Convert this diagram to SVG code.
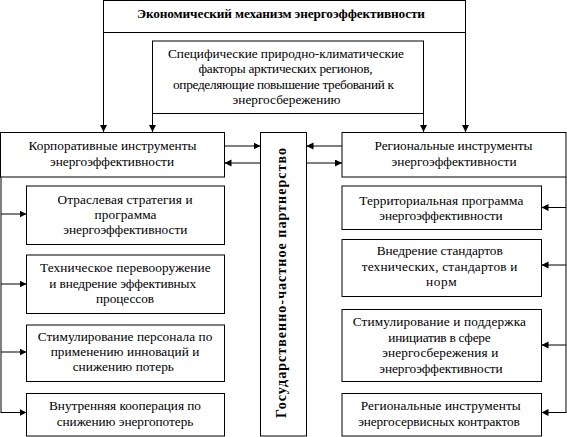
<svg xmlns="http://www.w3.org/2000/svg" width="567" height="437" viewBox="0 0 567 437">
<style>
rect{fill:#fff;stroke:#000;stroke-width:1}
text{font-family:'Liberation Serif','Times New Roman','DejaVu Serif',serif;font-size:13.3px;fill:#000;text-anchor:middle}
.b{font-weight:bold}
.c line{stroke:#000;stroke-width:1;fill:none}
</style>
<defs>
<marker id="ah" markerUnits="userSpaceOnUse" markerWidth="8" markerHeight="8" refX="7" refY="3.5" orient="auto">
<path d="M0,0 L7,3.5 L0,7 z" fill="#000"/>
</marker>
</defs>
<rect width="567" height="437" style="stroke:none"/>
<g class="c" id="connectors">
<line x1="103.5" y1="32.5" x2="103.5" y2="132" marker-end="url(#ah)"/>
<line x1="465.5" y1="32.5" x2="465.5" y2="132" marker-end="url(#ah)"/>
<line x1="152.5" y1="113.5" x2="152.5" y2="132" marker-end="url(#ah)"/>
<line x1="423.5" y1="113.5" x2="423.5" y2="132" marker-end="url(#ah)"/>
<line x1="224.5" y1="146" x2="260.5" y2="146" marker-end="url(#ah)"/>
<line x1="260.5" y1="163" x2="224.5" y2="163" marker-end="url(#ah)"/>
<line x1="342" y1="146" x2="306.5" y2="146" marker-end="url(#ah)"/>
<line x1="306.5" y1="163" x2="342" y2="163" marker-end="url(#ah)"/>
<line x1="1" y1="177" x2="1" y2="412.5"/>
<line x1="1" y1="214" x2="26.5" y2="214" marker-end="url(#ah)"/>
<line x1="1" y1="284" x2="26.5" y2="284" marker-end="url(#ah)"/>
<line x1="1" y1="352" x2="26.5" y2="352" marker-end="url(#ah)"/>
<line x1="0.5" y1="412.5" x2="26.5" y2="412.5" marker-end="url(#ah)"/>
<line x1="566" y1="177" x2="566" y2="412.5"/>
<line x1="566" y1="207.5" x2="541.5" y2="207.5" marker-end="url(#ah)"/>
<line x1="566" y1="265" x2="541.5" y2="265" marker-end="url(#ah)"/>
<line x1="566" y1="345" x2="541.5" y2="345" marker-end="url(#ah)"/>
<line x1="566.5" y1="412.5" x2="541.5" y2="412.5" marker-end="url(#ah)"/>
</g>
<g font-family="Liberation Serif, Times New Roman, DejaVu Serif, serif" font-size="13.3" lengthAdjust="spacing">
<g id="title">
<rect x="103.5" y="0.5" width="362" height="32"/>
<text class="b" x="281" y="18" textLength="288" lengthAdjust="spacing">Экономический механизм энергоэффективности</text>
</g>
<g id="factors">
<rect x="152.5" y="41" width="271" height="72.5"/>
<text x="286" y="57.5" textLength="236">Специфические природно-климатические</text>
<text x="285.5" y="73" textLength="174">факторы арктических регионов,</text>
<text x="283.5" y="88.5" textLength="221">определяющие повышение требований к</text>
<text x="286.5" y="104" textLength="108">энергосбережению</text>
</g>
<g id="corporate">
<rect x="0.5" y="132.5" width="224" height="44.5"/>
<text x="112.5" y="150" textLength="168">Корпоративные инструменты</text>
<text x="112" y="166" textLength="124">энергоэффективности</text>
</g>
<g id="ppp">
<rect x="260.5" y="132.5" width="46" height="303.5"/>
<text class="b" transform="translate(285.5,283) rotate(-90)" x="0" y="0" textLength="270" style="font-size:14px">Государственно-частное партнерство</text>
</g>
<g id="regional">
<rect x="342" y="132.5" width="224" height="44.5"/>
<text x="453.5" y="150" textLength="158">Региональные инструменты</text>
<text x="454" y="166" textLength="125">энергоэффективности</text>
</g>
<g id="l1">
<rect x="26.5" y="186" width="198" height="58.5"/>
<text x="125" y="204" textLength="135">Отраслевая стратегия и</text>
<text x="125.5" y="219" textLength="62">программа</text>
<text x="125.3" y="234" textLength="124">энергоэффективности</text>
</g>
<g id="l2">
<rect x="26.5" y="255" width="198" height="58.5"/>
<text x="125.3" y="272" textLength="170.7">Техническое перевооружение</text>
<text x="122.7" y="287.5" textLength="146.7">и внедрение эффективных</text>
<text x="125" y="303" textLength="58">процессов</text>
</g>
<g id="l3">
<rect x="26.5" y="325" width="198" height="56.5"/>
<text x="125" y="340.5" textLength="174.6">Стимулирование персонала по</text>
<text x="125" y="356" textLength="148.6">применению инноваций и</text>
<text x="123.3" y="371" textLength="101.3">снижению потерь</text>
</g>
<g id="l4">
<rect x="26.5" y="393.5" width="198" height="42.5"/>
<text x="125" y="410" textLength="152">Внутренняя кооперация по</text>
<text x="125" y="425.5" textLength="136.6">снижению энергопотерь</text>
</g>
<g id="r1">
<rect x="342" y="186" width="199.5" height="43.5"/>
<text x="441.3" y="205" textLength="164">Территориальная программа</text>
<text x="441" y="219.5" textLength="123.4">энергоэффективности</text>
</g>
<g id="r2">
<rect x="342" y="239.5" width="199.5" height="57"/>
<text x="439.7" y="255" textLength="126">Внедрение стандартов</text>
<text x="439.5" y="270.5" textLength="155.7">технических, стандартов и</text>
<text x="441.3" y="286" textLength="30.7">норм</text>
</g>
<g id="r3">
<rect x="342" y="309.5" width="199.5" height="72"/>
<text x="439.3" y="326" textLength="173.3">Стимулирование и поддержка</text>
<text x="439.5" y="341.5" textLength="102.3">инициатив в сфере</text>
<text x="440.3" y="357" textLength="116">энергосбережения и</text>
<text x="441" y="372.5" textLength="123.4">энергоэффективности</text>
</g>
<g id="r4">
<rect x="342" y="393.5" width="199.5" height="42.5"/>
<text x="440.7" y="410" textLength="160">Региональные инструменты</text>
<text x="439" y="425.5" textLength="161.7">энергосервисных контрактов</text>
</g>
</g>
</svg>
